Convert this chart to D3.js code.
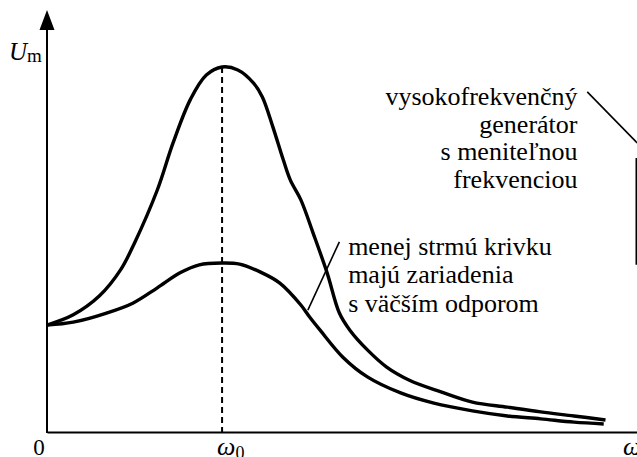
<!DOCTYPE html>
<html>
<head>
<meta charset="utf-8">
<script src="https://cdn.jsdelivr.net/npm/d3@7"></script>
<style>
    body { margin: 0; background: #fff; }
    svg { display: block; }
    text { font-family: "Liberation Serif", Tinos, "Times New Roman", "DejaVu Serif", serif; fill: #000; }
</style>
</head>
<body>
<svg id="chart" width="637" height="457"></svg>
<script>
// frequency in units of omega_0, amplitude in % of the tall peak
const freqHigh = [0, 0.15, 0.30, 0.42, 0.50, 0.63, 0.72, 0.82, 0.91, 1.00, 1.09, 1.18, 1.23,
    1.29, 1.35, 1.39, 1.45, 1.52, 1.60, 1.67, 1.73, 1.83, 1.94, 2.07, 2.25, 2.43, 2.63, 2.82, 3.01, 3.19];
const ampHigh = [29.3, 32.1, 37.3, 44.4, 51.8, 66.3, 79.2, 91.2, 97.8, 100, 99.2, 95.6, 91.8,
    83.6, 74.5, 69.0, 63.6, 54.5, 43.6, 32.6, 27.9, 22.5, 17.8, 14.2, 11.0, 8.2, 6.8, 5.5, 4.4, 3.3];

const freqLow = [0, 0.15, 0.34, 0.49, 0.63, 0.76, 0.87, 1.00, 1.10, 1.22, 1.33, 1.45, 1.50, 1.56, 1.69,
    1.83, 2.02, 2.21, 2.43, 2.63, 2.82, 3.01, 3.18];
const ampLow = [29.3, 30.1, 32.6, 35.3, 39.5, 43.6, 45.8, 46.3, 46.0, 43.8, 40.8, 34.8, 31.5, 27.9, 20.5,
    15.1, 10.7, 7.9, 5.8, 4.4, 3.6, 2.7, 2.2];

// axis ends
const xMax = 3.37;
const yArrowTip = 115.6;
const yArrowBase = 111.2;

// annotations (data units)
const textHigh = ["vysokofrekvenčný", "generátor", "s meniteľnou", "frekvenciou"];
const textHighPos = [3.03, 89.6];
const textLow = ["menej strmú krivku", "majú zariadenia", "s väčším odporom"];
const textLowPos = [1.72, 48.5];
const leaderLow = [[1.67, 52.1], [1.49, 33.4]];
const leaderHigh = [[3.086, 93.2], [3.371, 79.2]];
const generatorEdge = [[3.366, 75.1], [3.366, 45.8]];

const serif = "'Liberation Serif', Tinos, 'Times New Roman', 'DejaVu Serif', serif";

const svg = d3.select("#chart");
const x = d3.scaleLinear().domain([0, xMax]).range([47, 637]);
const y = d3.scaleLinear().domain([0, 100]).range([432, 67]);

svg.append("rect").attr("width", 637).attr("height", 457).attr("fill", "#fff");

// x axis: plain line, no ticks
svg.append("g")
    .attr("transform", `translate(0, ${y(0)})`)
    .call(d3.axisBottom(x).tickValues([]).tickSizeOuter(0))
    .call(g => g.select(".domain").attr("stroke-width", 2));

// y axis with arrow
svg.append("line")
    .attr("x1", x(0)).attr("x2", x(0))
    .attr("y1", y(0) + 1).attr("y2", y(yArrowBase))
    .attr("stroke", "#000").attr("stroke-width", 2);
svg.append("path")
    .attr("d", `M${x(0)},${y(yArrowTip)} L${x(0) - 7.5},${y(yArrowBase) + 4} L${x(0) + 7.5},${y(yArrowBase) + 4} Z`)
    .attr("fill", "#000");

// dashed line at omega_0
svg.append("line")
    .attr("x1", x(1)).attr("x2", x(1))
    .attr("y1", y(100)).attr("y2", y(0))
    .attr("stroke", "#000").attr("stroke-width", 2)
    .attr("stroke-dasharray", "6,4");

// resonance curves
const line = d3.line()
    .x(d => x(d[0]))
    .y(d => y(d[1]))
    .curve(d3.curveCatmullRom.alpha(0.5));

[[freqHigh, ampHigh], [freqLow, ampLow]].forEach(([f, a]) => {
    svg.append("path")
        .datum(f.map((v, i) => [v, a[i]]))
        .attr("fill", "none")
        .attr("stroke", "#000")
        .attr("stroke-width", 3.4)
        .attr("d", line);
});

// leader lines
[leaderLow, leaderHigh, generatorEdge].forEach(pts => {
    svg.append("line")
        .attr("x1", x(pts[0][0])).attr("y1", y(pts[0][1]))
        .attr("x2", x(pts[1][0])).attr("y2", y(pts[1][1]))
        .attr("stroke", "#000").attr("stroke-width", 1.6);
});

// axis labels
svg.append("text")
    .attr("font-family", serif)
    .attr("x", x(0) - 8).attr("y", 455)
    .attr("text-anchor", "middle")
    .attr("font-size", 23)
    .text("0");

const w0 = svg.append("text")
    .attr("font-family", serif)
    .attr("x", x(1) - 5).attr("y", 455)
    .attr("font-size", 26);
w0.append("tspan").attr("font-style", "italic").text("ω");
w0.append("tspan").attr("font-size", 18).attr("dy", 4).text("0");

svg.append("text")
    .attr("font-family", serif)
    .attr("x", x(3.29)).attr("y", 455)
    .attr("font-size", 26)
    .attr("font-style", "italic")
    .text("ω");

const um = svg.append("text")
    .attr("font-family", serif)
    .attr("x", 9).attr("y", 60)
    .attr("font-size", 25);
um.append("tspan").attr("font-style", "italic").text("U");
um.append("tspan").attr("font-size", 19).attr("dy", 2).text("m");

// annotation texts
svg.append("text")
    .attr("font-family", serif)
    .attr("font-size", 26)
    .attr("text-anchor", "end")
    .selectAll("tspan")
    .data(textHigh)
    .join("tspan")
    .attr("x", x(textHighPos[0]))
    .attr("y", (d, i) => y(textHighPos[1]) + i * 27.7)
    .text(d => d);

svg.append("text")
    .attr("font-family", serif)
    .attr("font-size", 26)
    .selectAll("tspan")
    .data(textLow)
    .join("tspan")
    .attr("x", x(textLowPos[0]))
    .attr("y", (d, i) => y(textLowPos[1]) + i * 28.3)
    .text(d => d);
</script>
</body>
</html>
